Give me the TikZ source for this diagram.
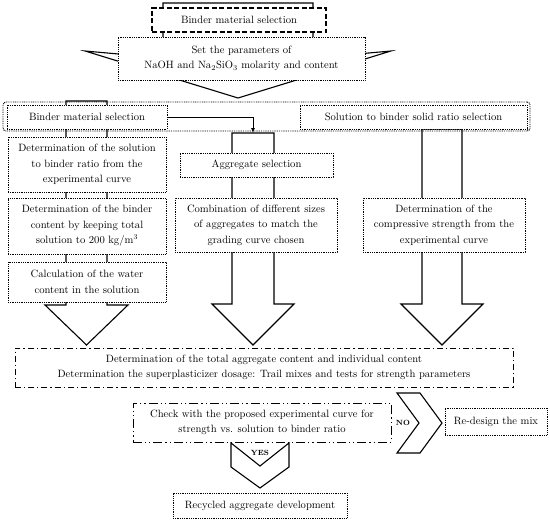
\documentclass[tikz,border=0pt]{standalone}
\usetikzlibrary{arrows.meta}
\begin{document}
\begin{tikzpicture}[x=1pt,y=-1pt,
  txt/.style={font=\fontsize{10.6}{15.5}\selectfont, align=center, inner sep=0pt},
  boxbase/.style={txt, fill=white, line width=0.9pt},
  dotbox/.style={boxbase, draw, dash pattern=on 0.9pt off 0.9pt},
  dashbox/.style={boxbase, draw, line width=1.1pt, dash pattern=on 5pt off 2.5pt},
  dashdotbox/.style={boxbase, draw, line width=1pt, dash pattern=on 6pt off 3pt on 1.2pt off 3pt},
  dashdotdotbox/.style={boxbase, draw, line width=1pt, dash pattern=on 9pt off 3pt on 1.2pt off 3pt on 1.2pt off 3pt},
  blockarrow/.style={draw, fill=white, line width=1.1pt, line join=miter},
  conn/.style={line width=1pt, -{Latex[length=5pt,width=4pt]}},
  lbl/.style={font=\fontsize{7.5}{9}\selectfont\bfseries, inner sep=0pt}
]
\useasboundingbox (0,0) rectangle (550,522);

% top block arrow
\draw[blockarrow] (163,3) -- (163,58) -- (85,51) -- (238,98) -- (391,51) -- (313,58) -- (313,3) -- cycle;
\node[dashbox, minimum width=174pt, minimum height=24pt] (tb) at (239,20) {Binder material selection};
\node[dotbox, minimum width=247pt, minimum height=43pt] (sp) at (241.5,58.5) {Set the parameters of\\NaOH and Na\textsubscript{2}SiO\textsubscript{3} molarity and content};

% column block arrows
\draw[blockarrow] (66,101) -- (66,305) -- (45,305) -- (86.5,345) -- (128,305) -- (107,305) -- (107,101) -- cycle;
\draw[blockarrow] (232,133) -- (232,304) -- (212,304) -- (253,345) -- (294,304) -- (274,304) -- (274,133) -- cycle;
\draw[blockarrow] (422,129) -- (422,304) -- (401,304) -- (442,345) -- (483,304) -- (462,304) -- (462,129) -- cycle;

% second row
\node[dotbox, rounded corners=3pt, fill=none, minimum width=527pt, minimum height=29pt] (outer) at (266.5,116.5) {};
\node[dotbox, minimum width=160pt, minimum height=24pt] (bm) at (87,117) {Binder material selection};
\node[dotbox, minimum width=227pt, minimum height=24pt] (ss) at (413.5,117) {Solution to binder solid ratio selection};

% left column
\node[dotbox, minimum width=158pt, minimum height=55pt] (d1) at (87,164.5) {Determination of the solution\\to binder ratio from the\\experimental curve};
\node[dotbox, minimum width=158pt, minimum height=56pt] (d2) at (87,226) {Determination of the binder\\content by keeping total\\solution to 200 kg/m\textsuperscript{3}};
\node[dotbox, minimum width=158pt, minimum height=40pt] (d3) at (87,282) {Calculation of the water\\content in the solution};

% middle column
\node[dotbox, minimum width=153pt, minimum height=24pt] (ag) at (256.5,165) {Aggregate selection};
\node[dotbox, minimum width=162pt, minimum height=54pt] (cb) at (256,225) {Combination of different sizes\\of aggregates to match the\\grading curve chosen};

% right column
\node[dotbox, minimum width=162pt, minimum height=54pt] (cs) at (444,225) {Determination of the\\compressive strength from the\\experimental curve};

% connector
\coordinate (agtop) at (253,133);
\draw[conn] (bm.east) -| (agtop);

% big box
\node[dashdotbox, minimum width=498pt, minimum height=39pt] (big) at (264,367.5) {Determination of the total aggregate content and individual content\\Determination the superplasticizer dosage: Trail mixes and tests for strength parameters};

% chevrons
\draw[blockarrow] (231,443) -- (260,466) -- (289,443) -- (289,467) -- (260,488) -- (231,467) -- cycle;
\draw[blockarrow] (397,393) -- (420,393) -- (442,423) -- (420,453) -- (397,453) -- (419,423) -- cycle;

\node[dashdotdotbox, minimum width=258pt, minimum height=39pt] (ck) at (262,422.5) {Check with the proposed experimental curve for\\strength vs. solution to binder ratio};
\node[lbl] (yes) at (260,453) {YES};
\node[lbl] (no) at (403,423) {NO};

\node[dotbox, minimum width=102pt, minimum height=27pt] (re) at (496,421.5) {Re-design the mix};
\node[dotbox, minimum width=174pt, minimum height=25pt] (rc) at (260,505.5) {Recycled aggregate development};
\end{tikzpicture}
\end{document}
